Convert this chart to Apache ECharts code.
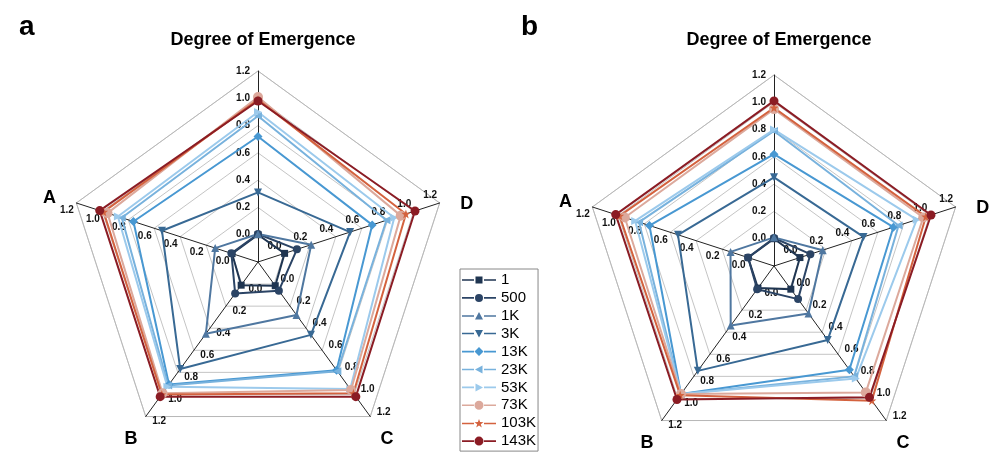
<!DOCTYPE html>
<html>
<head>
<meta charset="utf-8">
<script src="https://cdn.jsdelivr.net/npm/echarts@6/dist/echarts.min.js"></script>
<style>
    html, body { margin: 0; padding: 0; background: #fff; }
    #chart { width: 996px; height: 475px; }
</style>
</head>
<body>
<div id="chart"></div>
<script>
// axes, counter-clockwise from the top
const axisNames = ['', 'A', 'B', 'C', 'D'];
const sizes = ['1', '500', '1K', '3K', '13K', '23K', '53K', '73K', '103K', '143K'];
const colors = ['#1f3551', '#2b4465', '#4f77a0', '#386994', '#4898d2', '#78b2dd', '#9ccaec', '#dca99c', '#d4623e', '#8b1c24'];

// panel a, one row per sample size: [top, A, B, C, D]
const panelA = [
    [0.00, 0.00, 0.01, 0.015, 0.005],
    [0.005, 0.005, 0.085, 0.06, 0.10],
    [0.005, 0.13, 0.45, 0.28, 0.21],
    [0.31, 0.54, 0.77, 0.46, 0.51],
    [0.72, 0.76, 0.91, 0.78, 0.68],
    [0.87, 0.85, 0.92, 0.79, 0.79],
    [0.90, 0.88, 0.93, 0.95, 0.85],
    [1.01, 0.96, 0.99, 0.96, 0.90],
    [0.99, 0.99, 1.00, 0.99, 0.94],
    [0.98, 1.02, 1.02, 1.02, 1.01]
];
// panel b
const panelB = [
    [0.00, 0.00, 0.00, 0.01, 0.00],
    [0.005, 0.00, 0.01, 0.10, 0.08],
    [0.01, 0.135, 0.34, 0.23, 0.175],
    [0.45, 0.54, 0.75, 0.47, 0.49],
    [0.62, 0.76, 0.96, 0.74, 0.72],
    [0.79, 0.84, 0.96, 0.80, 0.76],
    [0.80, 0.87, 0.96, 0.82, 0.90],
    [0.95, 0.95, 0.96, 0.945, 0.95],
    [0.96, 0.99, 0.97, 1.02, 0.97],
    [1.01, 1.02, 1.01, 0.99, 1.01]
];

// marker shapes
const star = 'path://M50,0L61.8,33.8L97.6,34.5L69,56.2L79.4,90.5L50,70L20.6,90.5L31,56.2L2.4,34.5L38.2,33.8Z';
const symbols = ['rect', 'circle', 'triangle', 'path://M0,0L10,0L5,9Z', 'diamond',
    'path://M9,0L9,10L0,5Z', 'path://M0,0L0,10L9,5Z', 'circle', star, 'circle'];
const symbolSizes = [7, 8, 8, 8, 9, 8, 8, 10, 9, 9];

// legend icons: line + marker, box 34x10
const lineL = 'M0,4.2L12,4.2L12,5.8L0,5.8Z';
const lineR = 'M22,4.2L34,4.2L34,5.8L22,5.8Z';
const iconMarks = [
    'M13.5,1.5L20.5,1.5L20.5,8.5L13.5,8.5Z',
    'M13,5A4,4 0 1 0 21,5A4,4 0 1 0 13,5Z',
    'M17,1L21,8.5L13,8.5Z',
    'M13,1.5L21,1.5L17,9Z',
    'M17,0.5L21.5,5L17,9.5L12.5,5Z',
    'M20.5,1L20.5,9L13,5Z',
    'M13.5,1L13.5,9L21,5Z',
    'M12.5,5A4.5,4.5 0 1 0 21.5,5A4.5,4.5 0 1 0 12.5,5Z',
    'M17,0.5L18.1,3.6L21.5,3.7L18.8,5.7L19.8,9L17,7.1L14.2,9L15.2,5.7L12.5,3.7L15.9,3.6Z',
    'M12.5,5A4.5,4.5 0 1 0 21.5,5A4.5,4.5 0 1 0 12.5,5Z'
];

const font = 'Liberation Sans, Arial, sans-serif';
const nameStyle = { fontSize: 18, fontWeight: 'bold', fontFamily: font, color: '#000' };

function makeRadar(cx, cy) {
    return {
        center: [cx, cy],
        radius: 191,
        shape: 'polygon',
        splitNumber: 7,
        indicator: axisNames.map(n => ({ name: n, min: -0.2, max: 1.2 })),
        axisName: {
            color: '#000', fontSize: 18, fontWeight: 'bold', fontFamily: font,
            formatter: n => n ? '{' + n + '|' + n + '}' : '',
            rich: {
                A: Object.assign({ padding: [6, 0, 0, 0], width: 8, align: 'left' }, nameStyle),
                B: Object.assign({ padding: [34, 4, 0, 0] }, nameStyle),
                C: Object.assign({ padding: [34, 0, 0, 6] }, nameStyle),
                D: Object.assign({ padding: [6, 0, 0, 14] }, nameStyle)
            }
        },
        nameGap: 7,
        axisLine: { lineStyle: { color: '#222', width: 1 } },
        splitLine: { lineStyle: { color: '#b5b5b5', width: 0.8 } },
        splitArea: { show: false },
        axisTick: { show: false },
        axisLabel: {
            show: true,
            color: '#111',
            fontSize: 10,
            fontWeight: 'bold',
            fontFamily: font,
            formatter: v => v < -0.01 ? '' : Math.abs(v).toFixed(1)
        }
    };
}

function makeSeries(rows, radarIndex) {
    return rows.map((vals, i) => ({
        type: 'radar',
        name: sizes[i],
        radarIndex: radarIndex,
        symbol: symbols[i],
        symbolSize: symbolSizes[i],
        color: colors[i],
        lineStyle: { width: 2, color: colors[i] },
        itemStyle: { color: colors[i] },
        data: [{ value: vals, name: sizes[i] }]
    }));
}

const chart = echarts.init(document.getElementById('chart'));
chart.setOption({
    animation: false,
    title: [
        { text: 'a', left: 14, top: 8, textStyle: { fontSize: 28, fontWeight: 'bold', fontFamily: font, color: '#000' } },
        { text: 'b', left: 516, top: 8, textStyle: { fontSize: 28, fontWeight: 'bold', fontFamily: font, color: '#000' } },
        { text: 'Degree of Emergence', left: 258, top: 26, textAlign: 'center', textStyle: { fontSize: 18, fontWeight: 'bold', fontFamily: font, color: '#000' } },
        { text: 'Degree of Emergence', left: 774, top: 26, textAlign: 'center', textStyle: { fontSize: 18, fontWeight: 'bold', fontFamily: font, color: '#000' } }
    ],
    legend: {
        orient: 'vertical',
        left: 460,
        top: 269,
        padding: [3, 2, 2, 2],
        borderColor: '#888',
        borderWidth: 1,
        itemWidth: 34,
        itemHeight: 10,
        itemGap: 1.9,
        textStyle: { fontSize: 15, lineHeight: 16, color: '#000', fontFamily: font },
        data: sizes.map((s, i) => ({ name: s, icon: 'path://' + lineL + lineR + iconMarks[i] }))
    },
    radar: [makeRadar(258, 262), makeRadar(774, 266)],
    series: makeSeries(panelA, 0).concat(makeSeries(panelB, 1))
});
</script>
</body>
</html>
